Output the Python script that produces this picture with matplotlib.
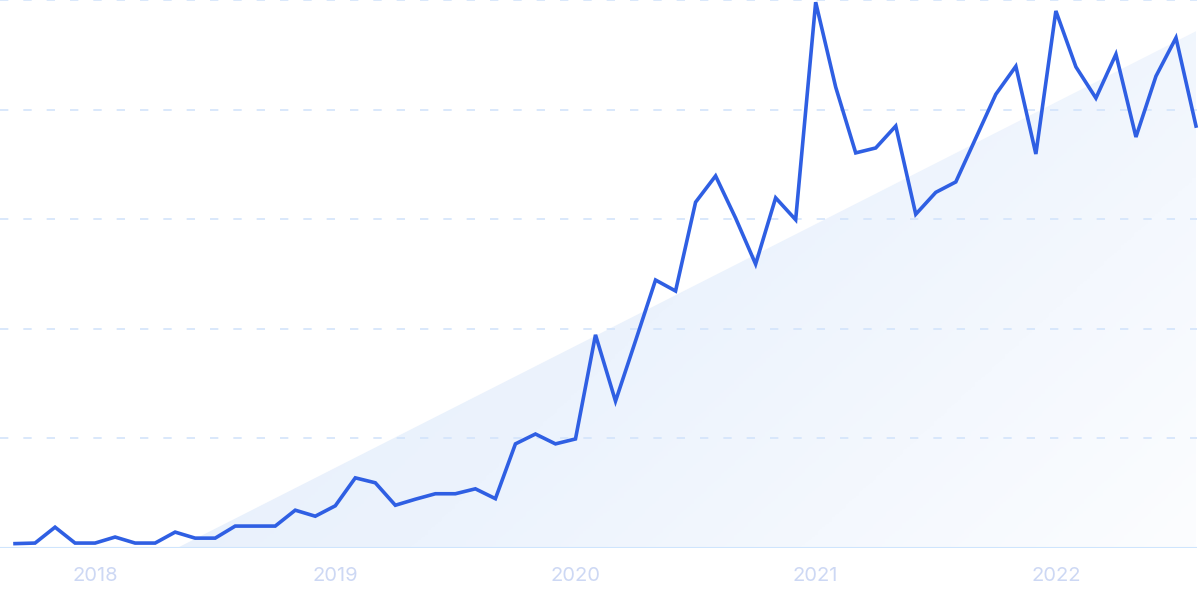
import numpy as np
import matplotlib
matplotlib.use("Agg")
import matplotlib.pyplot as plt
from matplotlib.patches import Polygon
from matplotlib.colors import LinearSegmentedColormap

# Monthly values, Sep 2017 .. Aug 2022 (0-100 scale)
months = [f"{y}-{m:02d}" for y in range(2017, 2023) for m in range(1, 13)]
months = months[months.index("2017-09"):months.index("2022-08") + 1]
values = [0.8, 0.9, 3.8, 0.9, 0.9, 2.0, 0.9, 0.9, 2.9, 1.8,
          1.8, 4.0, 4.0, 4.0, 6.9, 5.8, 7.7, 12.8, 11.9, 7.8,
          8.9, 9.9, 9.9, 10.8, 9.0, 19.0, 20.8, 19.0, 19.9, 38.9,
          26.8, 37.8, 48.9, 46.9, 63.1, 67.9, 60.2, 51.8, 63.9, 59.9,
          99.6, 84.1, 72.1, 73.0, 77.0, 60.9, 64.9, 66.8, 74.8, 82.8,
          87.9, 71.9, 98.0, 87.8, 82.1, 90.1, 75.0, 86.1, 93.1, 77.0]
year_labels = ["2018", "2019", "2020", "2021", "2022"]
year_months = ["2018-01", "2019-01", "2020-01", "2021-01", "2022-01"]
# trend overlay: (month index, value) endpoints
trend_start = (8.1, 0.0)
trend_end = (59.0, 94.3)

x = np.arange(len(values))
line_color = "#2f5fe3"
grid_color = "#d3e4fb"
tick_color = "#cdd8f4"

fig = plt.figure(figsize=(12, 6), dpi=100)
ax = fig.add_axes([0.0, 52 / 600, 1197 / 1200, 548 / 600])
ax.set_xlim(-0.75, 59.05)
ax.set_ylim(0, 100)

# gradient trend area
poly = [(trend_start[0], trend_start[1]), (trend_end[0], trend_end[1]), (trend_end[0], 0)]
cmap = LinearSegmentedColormap.from_list("g", ["#e4eefc", "#ecf3fd", "#fcfdff"])
gx = np.linspace(0, 1, 300)
gy = np.linspace(0, 1, 200)
GX, GY = np.meshgrid(gx, gy)
grad = 0.65 * GX + 0.35 * GY
im = ax.imshow(grad, extent=[trend_start[0], trend_end[0], 0, trend_end[1]], origin="upper",
               cmap=cmap, aspect="auto", zorder=1, vmin=0.0, vmax=1.0)
patch = Polygon(poly, closed=True, facecolor="none", edgecolor="none")
ax.add_patch(patch)
im.set_clip_path(patch)

# grid
for gyv in [20, 40, 60, 80, 100]:
    ax.axhline(gyv, color=grid_color, lw=1.2, ls=(0, (5, 9)), zorder=2, clip_on=False)
ax.axhline(0, color="#cfe5fd", lw=1.5, zorder=2)

ax.plot(x, values, color=line_color, lw=2.6, solid_joinstyle="miter", zorder=3, clip_on=False)

for sp in ax.spines.values():
    sp.set_visible(False)
ax.set_yticks([])
ax.set_xticks([months.index(m) for m in year_months])
ax.set_xticklabels(year_labels, fontsize=14.5, color=tick_color, family=["Inter", "DejaVu Sans"])
ax.tick_params(axis="x", length=0, pad=14)

fig.savefig("out.png", dpi=100)
